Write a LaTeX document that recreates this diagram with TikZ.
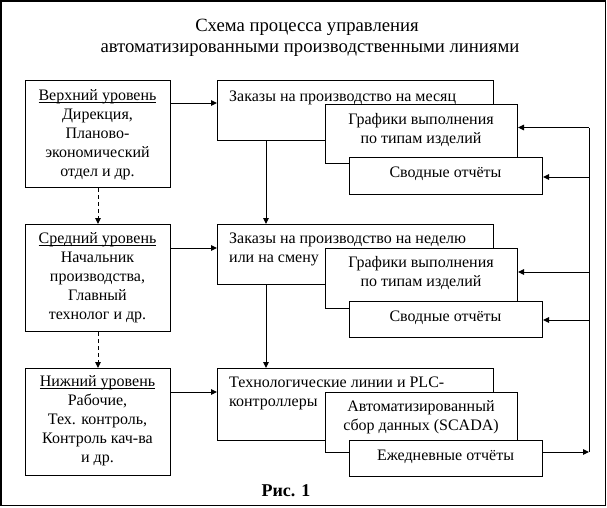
\documentclass[tikz,border=0pt]{standalone}
\usepackage{fontspec}
\setmainfont{Liberation Serif}
\usetikzlibrary{arrows.meta}
\newcommand\ulin[1]{\setbox0\hbox{#1}\rlap{\rule[-2.4pt]{\wd0}{0.9pt}}\box0}
\begin{document}
\begin{tikzpicture}[x=1pt,y=-1pt,
  box/.style={draw,line width=1pt,fill=white,anchor=north west,inner sep=0pt,minimum width=#1},
  txt/.style={font=\fontsize{16}{19}\selectfont,inner sep=0pt,anchor=base},
  ltxt/.style={txt,anchor=base west,align=left},
  ctxt/.style={txt,align=center},
  ttl/.style={font=\fontsize{18.7}{21}\selectfont,inner sep=0pt,anchor=base},
  arr/.style={line width=1pt,-{Triangle[length=6pt,width=5.5pt]}},
  ln/.style={line width=1pt},
  dsh/.style={arr,dash pattern=on 4pt off 3pt}]
\useasboundingbox (0,0) rectangle (607,507);
\draw[line width=1.6pt] (1,1) rectangle (605.5,505.5);
% title
\node[ttl] (t1) at (307,31.5) {Схема процесса управления};
\node[ttl] (t2) at (310,52.5) {автоматизированными производственными линиями};
% left boxes
\node[box=145pt,minimum height=107pt] (L1) at (25,80) {};
\node[box=145pt,minimum height=107pt] (L2) at (25,224) {};
\node[box=145pt,minimum height=107pt] (L3) at (25,368) {};
% (base anchor of a multi-line text = baseline of its last line)
\node[ctxt] (L1t) at (97.5,176) {\ulin{Верхний уровень}\\Дирекция,\\Планово-\\экономический\\отдел и др.};
\node[ctxt] (L2t) at (97.5,319.5) {\ulin{Средний уровень}\\Начальник\\производства,\\Главный\\технолог и др.};
\node[ctxt] (L3t) at (97.5,462.5) {\ulin{Нижний уровень}\\Рабочие,\\Тех. контроль,\\Контроль кач-ва\\и др.};
% right big boxes
\node[box=276pt,minimum height=60pt] (B1) at (217,80) {};
\node[box=276pt,minimum height=60pt] (B2) at (217,224) {};
\node[box=276pt,minimum height=72pt] (B3) at (217,368) {};
\node[ltxt] (B1t) at (229,101.5) {Заказы на производство на месяц};
\node[ltxt] (B2t) at (229,262.6) {Заказы на производство на неделю\\или на смену};
\node[ltxt] (B3t) at (229,406.5) {Технологические линии и PLC-\\контроллеры};
% middle boxes
\node[box=192pt,minimum height=59pt] (G1) at (325,104) {};
\node[box=192pt,minimum height=60pt] (G2) at (325,248) {};
\node[box=192pt,minimum height=60pt] (G3) at (325,392) {};
\node[ctxt] (G1t) at (421,143.5) {Графики выполнения\\по типам изделий};
\node[ctxt] (G2t) at (421,286) {Графики выполнения\\по типам изделий};
\node[ctxt] (G3t) at (421,430) {Автоматизированный\\сбор данных (SCADA)};
% report boxes
\node[box=193pt,minimum height=37pt] (S1) at (349,157) {};
\node[box=193pt,minimum height=36pt] (S2) at (349,301) {};
\node[box=193pt,minimum height=36pt] (S3) at (349,440) {};
\node[txt] (S1t) at (445.5,177.3) {Сводные отчёты};
\node[txt] (S2t) at (445.5,321.7) {Сводные отчёты};
\node[txt] (S3t) at (445.5,460) {Ежедневные отчёты};
% caption
\node[font=\fontsize{18}{21}\selectfont\bfseries,inner sep=0pt,anchor=base] (cap) at (286,496.5) {Рис. 1};
% connectors
\draw[dsh] (L1.south) -- (L2.north);
\draw[dsh] (L2.south) -- (L3.north);
\draw[arr] (L1.east |- 0,103) -- (B1.west |- 0,103);
\draw[arr] (L2.east |- 0,248) -- (B2.west |- 0,248);
\draw[arr] (L3.east |- 0,392) -- (B3.west |- 0,392);
\draw[arr] (B1.south west -| 266,0) -- (B2.north west -| 266,0);
\draw[arr] (B2.south west -| 266,0) -- (B3.north west -| 266,0);
\coordinate (Rt) at (589,127.5);
\coordinate (Rb) at (589,452);
\draw[arr] (S3.east |- Rb) -- (Rb);
\draw[ln] (Rb) -- (Rt);
\draw[arr] (Rt) -- (G1.east |- Rt);
\draw[arr] (589,177) -- (S1.east |- 0,177);
\draw[arr] (589,272) -- (G2.east |- 0,272);
\draw[arr] (589,320) -- (S2.east |- 0,320);
\end{tikzpicture}
\end{document}
